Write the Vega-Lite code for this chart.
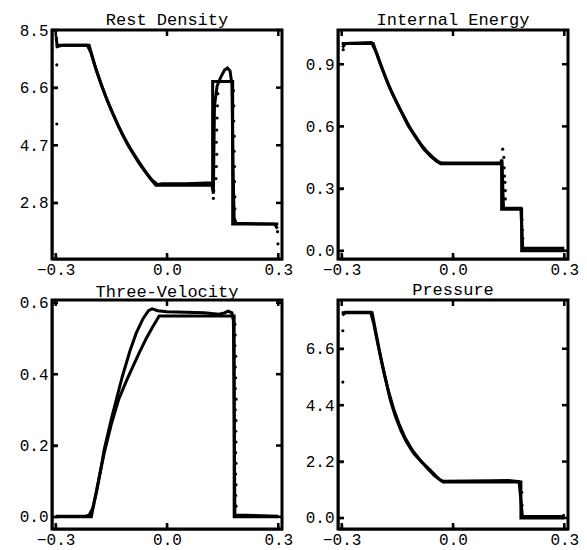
{
"$schema": "https://vega.github.io/schema/vega-lite/v6.json",
"background": "white",
"padding": {"left": 18, "top": 10, "right": 5, "bottom": 0},
"columns": 2,
"spacing": {"row": 41, "column": 56},
"bounds": "flush",
"config": {
  "view": {"stroke": "black", "strokeWidth": 2},
  "axis": {"grid": false, "title": null, "domain": true, "domainColor": "black", "domainWidth": 2, "ticks": true, "tickColor": "black", "tickWidth": 1.5, "tickSize": -5, "labelPadding": 9, "minExtent": 0, "labelFont": "Liberation Mono", "labelFontSize": 16, "labelColor": "black", "format": ".1f"},
  "axisX": {"labelPadding": 7},
  "title": {"font": "Liberation Mono", "fontSize": 17, "fontWeight": "normal", "color": "black", "offset": -7},
  "line": {"color": "black", "strokeWidth": 3},
  "point": {"color": "black", "filled": true, "size": 10, "opacity": 1},
  "tick": {"color": "black", "fill": "black", "opacity": 1, "thickness": 2.5}
},
"datasets": {
  "xt": [{"t": -0.3}, {"t": 0.0}, {"t": 0.3}],
  "rhoYT": [{"t": 2.8}, {"t": 4.7}, {"t": 6.6}, {"t": 8.5}],
  "epsYT": [{"t": 0.0}, {"t": 0.3}, {"t": 0.6}, {"t": 0.9}],
  "vYT": [{"t": 0.0}, {"t": 0.2}, {"t": 0.4}, {"t": 0.6}],
  "pYT": [{"t": 0.0}, {"t": 2.2}, {"t": 4.4}, {"t": 6.6}],
  "rhoF": [{"k":1,"x":-0.31,"y":0.95},{"k":2,"x":0.31,"y":0.95},{"k":3,"x":0.31,"y":8.5},{"k":4,"x":-0.31,"y":8.5},{"k":5,"x":-0.31,"y":0.95}],
  "epsF": [{"k":1,"x":-0.31,"y":-0.04},{"k":2,"x":0.31,"y":-0.04},{"k":3,"x":0.31,"y":1.065},{"k":4,"x":-0.31,"y":1.065},{"k":5,"x":-0.31,"y":-0.04}],
  "vF": [{"k":1,"x":-0.31,"y":-0.034},{"k":2,"x":0.31,"y":-0.034},{"k":3,"x":0.31,"y":0.608},{"k":4,"x":-0.31,"y":0.608},{"k":5,"x":-0.31,"y":-0.034}],
  "pF": [{"k":1,"x":-0.31,"y":-0.43},{"k":2,"x":0.31,"y":-0.43},{"k":3,"x":0.31,"y":8.5},{"k":4,"x":-0.31,"y":8.5},{"k":5,"x":-0.31,"y":-0.43}],
  "rhoL": [
    {"s":"a","x":-0.3,"y":8.0},{"s":"a","x":-0.21,"y":8.0},{"s":"a","x":-0.195,"y":7.35},{"s":"a","x":-0.18,"y":6.8},{"s":"a","x":-0.165,"y":6.3},{"s":"a","x":-0.15,"y":5.85},{"s":"a","x":-0.135,"y":5.45},{"s":"a","x":-0.12,"y":5.05},{"s":"a","x":-0.105,"y":4.7},{"s":"a","x":-0.09,"y":4.4},{"s":"a","x":-0.075,"y":4.1},{"s":"a","x":-0.06,"y":3.85},{"s":"a","x":-0.045,"y":3.6},{"s":"a","x":-0.03,"y":3.38},{"s":"a","x":0.123,"y":3.38},{"s":"a","x":0.1231,"y":6.8},{"s":"a","x":0.177,"y":6.8},{"s":"a","x":0.1771,"y":2.1},{"s":"a","x":0.3,"y":2.1},
    {"s":"b","x":-0.299,"y":8.3},{"s":"b","x":-0.296,"y":7.95},{"s":"b","x":-0.28,"y":8.0},{"s":"b","x":-0.215,"y":8.0},{"s":"b","x":-0.205,"y":7.75},{"s":"b","x":-0.19,"y":7.15},{"s":"b","x":-0.175,"y":6.62},{"s":"b","x":-0.16,"y":6.15},{"s":"b","x":-0.145,"y":5.72},{"s":"b","x":-0.13,"y":5.3},{"s":"b","x":-0.115,"y":4.95},{"s":"b","x":-0.1,"y":4.62},{"s":"b","x":-0.085,"y":4.33},{"s":"b","x":-0.07,"y":4.05},{"s":"b","x":-0.055,"y":3.78},{"s":"b","x":-0.04,"y":3.55},{"s":"b","x":-0.025,"y":3.4},{"s":"b","x":-0.015,"y":3.43},{"s":"b","x":0.05,"y":3.43},{"s":"b","x":0.12,"y":3.46},{"s":"b","x":0.125,"y":3.1},{"s":"b","x":0.128,"y":6.0},{"s":"b","x":0.135,"y":6.65},{"s":"b","x":0.145,"y":6.95},{"s":"b","x":0.155,"y":7.18},{"s":"b","x":0.163,"y":7.25},{"s":"b","x":0.17,"y":7.15},{"s":"b","x":0.175,"y":6.7},{"s":"b","x":0.178,"y":4.0},{"s":"b","x":0.181,"y":2.3},{"s":"b","x":0.186,"y":2.13},{"s":"b","x":0.29,"y":2.1},{"s":"b","x":0.298,"y":1.95}
  ],
  "rhoP": [
    {"x":-0.297,"y":7.35},{"x":-0.297,"y":5.4},{"x":-0.298,"y":8.2},
    {"x":0.125,"y":2.95},{"x":0.126,"y":3.2},{"x":0.132,"y":3.6},{"x":0.133,"y":4.0},{"x":0.134,"y":4.4},{"x":0.133,"y":4.8},{"x":0.134,"y":5.2},{"x":0.135,"y":5.6},{"x":0.136,"y":6.0},{"x":0.137,"y":6.4},
    {"x":0.179,"y":6.5},{"x":0.18,"y":6.0},{"x":0.18,"y":5.5},{"x":0.181,"y":5.0},{"x":0.181,"y":4.5},{"x":0.182,"y":4.0},{"x":0.182,"y":3.5},{"x":0.183,"y":3.0},{"x":0.183,"y":2.6},
    {"x":0.298,"y":1.85},{"x":0.299,"y":1.45}
  ],
  "epsL": [
    {"s":"a","x":-0.3,"y":1.0},{"s":"a","x":-0.215,"y":1.0},{"s":"a","x":-0.2,"y":0.92},{"s":"a","x":-0.185,"y":0.85},{"s":"a","x":-0.169,"y":0.78},{"s":"a","x":-0.15,"y":0.71},{"s":"a","x":-0.135,"y":0.655},{"s":"a","x":-0.123,"y":0.61},{"s":"a","x":-0.1,"y":0.545},{"s":"a","x":-0.079,"y":0.49},{"s":"a","x":-0.06,"y":0.455},{"s":"a","x":-0.045,"y":0.433},{"s":"a","x":-0.033,"y":0.42},{"s":"a","x":0.131,"y":0.42},{"s":"a","x":0.1311,"y":0.2},{"s":"a","x":0.185,"y":0.2},{"s":"a","x":0.1851,"y":0.0},{"s":"a","x":0.3,"y":0.0},
    {"s":"b","x":-0.298,"y":0.98},{"s":"b","x":-0.29,"y":1.0},{"s":"b","x":-0.22,"y":1.005},{"s":"b","x":-0.205,"y":0.95},{"s":"b","x":-0.19,"y":0.875},{"s":"b","x":-0.175,"y":0.805},{"s":"b","x":-0.16,"y":0.745},{"s":"b","x":-0.145,"y":0.69},{"s":"b","x":-0.13,"y":0.64},{"s":"b","x":-0.115,"y":0.59},{"s":"b","x":-0.1,"y":0.55},{"s":"b","x":-0.085,"y":0.51},{"s":"b","x":-0.07,"y":0.478},{"s":"b","x":-0.055,"y":0.452},{"s":"b","x":-0.04,"y":0.43},{"s":"b","x":-0.03,"y":0.423},{"s":"b","x":0.128,"y":0.425},{"s":"b","x":0.132,"y":0.44},{"s":"b","x":0.136,"y":0.21},{"s":"b","x":0.14,"y":0.205},{"s":"b","x":0.183,"y":0.205},{"s":"b","x":0.188,"y":0.012},{"s":"b","x":0.3,"y":0.012}
  ],
  "epsP": [
    {"x":-0.296,"y":0.97},{"x":-0.294,"y":0.995},{"x":0.134,"y":0.49},{"x":0.137,"y":0.45},{"x":0.138,"y":0.4},{"x":0.139,"y":0.36},{"x":0.14,"y":0.33},{"x":0.141,"y":0.29},{"x":0.141,"y":0.25},{"x":0.186,"y":0.15},{"x":0.187,"y":0.1},{"x":0.188,"y":0.06}
  ],
  "vL": [
    {"s":"a","x":-0.3,"y":0.0},{"s":"a","x":-0.204,"y":0.0},{"s":"a","x":-0.185,"y":0.1},{"s":"a","x":-0.169,"y":0.18},{"s":"a","x":-0.15,"y":0.26},{"s":"a","x":-0.13,"y":0.33},{"s":"a","x":-0.11,"y":0.38},{"s":"a","x":-0.097,"y":0.41},{"s":"a","x":-0.075,"y":0.46},{"s":"a","x":-0.056,"y":0.5},{"s":"a","x":-0.04,"y":0.53},{"s":"a","x":-0.021,"y":0.563},{"s":"a","x":0.181,"y":0.563},{"s":"a","x":0.1811,"y":0.0},{"s":"a","x":0.3,"y":0.0},
    {"s":"b","x":-0.3,"y":0.002},{"s":"b","x":-0.22,"y":0.002},{"s":"b","x":-0.21,"y":0.005},{"s":"b","x":-0.2,"y":0.025},{"s":"b","x":-0.19,"y":0.07},{"s":"b","x":-0.18,"y":0.125},{"s":"b","x":-0.169,"y":0.19},{"s":"b","x":-0.15,"y":0.275},{"s":"b","x":-0.135,"y":0.335},{"s":"b","x":-0.12,"y":0.395},{"s":"b","x":-0.1,"y":0.465},{"s":"b","x":-0.083,"y":0.515},{"s":"b","x":-0.065,"y":0.555},{"s":"b","x":-0.05,"y":0.578},{"s":"b","x":-0.04,"y":0.583},{"s":"b","x":-0.025,"y":0.578},{"s":"b","x":0.0,"y":0.575},{"s":"b","x":0.05,"y":0.574},{"s":"b","x":0.1,"y":0.572},{"s":"b","x":0.14,"y":0.568},{"s":"b","x":0.155,"y":0.572},{"s":"b","x":0.165,"y":0.577},{"s":"b","x":0.175,"y":0.572},{"s":"b","x":0.179,"y":0.55},{"s":"b","x":0.181,"y":0.3},{"s":"b","x":0.183,"y":0.005},{"s":"b","x":0.3,"y":0.002}
  ],
  "vP": [
    {"x":0.183,"y":0.54},{"x":0.184,"y":0.51},{"x":0.183,"y":0.48},{"x":0.185,"y":0.45},{"x":0.184,"y":0.42},{"x":0.185,"y":0.39},{"x":0.184,"y":0.36},{"x":0.186,"y":0.33},{"x":0.184,"y":0.3},{"x":0.186,"y":0.27},{"x":0.185,"y":0.24},{"x":0.186,"y":0.21},{"x":0.185,"y":0.18},{"x":0.186,"y":0.15},{"x":0.185,"y":0.12},{"x":0.186,"y":0.09},{"x":0.185,"y":0.06},{"x":0.186,"y":0.03}
  ],
  "pL": [
    {"s":"a","x":-0.3,"y":8.0},{"s":"a","x":-0.218,"y":8.0},{"s":"a","x":-0.21,"y":7.4},{"s":"a","x":-0.2,"y":6.65},{"s":"a","x":-0.19,"y":5.95},{"s":"a","x":-0.18,"y":5.3},{"s":"a","x":-0.169,"y":4.6},{"s":"a","x":-0.155,"y":3.95},{"s":"a","x":-0.14,"y":3.4},{"s":"a","x":-0.125,"y":2.95},{"s":"a","x":-0.105,"y":2.5},{"s":"a","x":-0.082,"y":2.15},{"s":"a","x":-0.06,"y":1.85},{"s":"a","x":-0.04,"y":1.55},{"s":"a","x":-0.027,"y":1.4},{"s":"a","x":0.183,"y":1.4},{"s":"a","x":0.1831,"y":0.0},{"s":"a","x":0.3,"y":0.0},
    {"s":"b","x":-0.298,"y":7.9},{"s":"b","x":-0.29,"y":8.02},{"s":"b","x":-0.222,"y":8.02},{"s":"b","x":-0.214,"y":7.6},{"s":"b","x":-0.205,"y":6.95},{"s":"b","x":-0.195,"y":6.25},{"s":"b","x":-0.185,"y":5.6},{"s":"b","x":-0.174,"y":4.95},{"s":"b","x":-0.16,"y":4.25},{"s":"b","x":-0.145,"y":3.65},{"s":"b","x":-0.13,"y":3.15},{"s":"b","x":-0.11,"y":2.65},{"s":"b","x":-0.09,"y":2.28},{"s":"b","x":-0.07,"y":1.95},{"s":"b","x":-0.05,"y":1.65},{"s":"b","x":-0.035,"y":1.48},{"s":"b","x":-0.025,"y":1.43},{"s":"b","x":0.1,"y":1.45},{"s":"b","x":0.15,"y":1.46},{"s":"b","x":0.178,"y":1.42},{"s":"b","x":0.183,"y":0.7},{"s":"b","x":0.187,"y":0.06},{"s":"b","x":0.3,"y":0.06}
  ],
  "pP": [
    {"x":-0.297,"y":7.3},{"x":-0.297,"y":5.3},{"x":0.185,"y":1.0},{"x":0.186,"y":0.5},{"x":0.298,"y":0.1}
  ]
},
"concat": [
  {
    "width": 230, "height": 229, "title": "Rest Density",
    "layer": [
      {"data": {"name": "rhoL"}, "mark": "line",
       "encoding": {
         "x": {"field": "x", "type": "quantitative", "scale": {"domain": [-0.31, 0.31], "nice": false, "zero": false}, "axis": {"values": [-0.3, 0, 0.3]}},
         "y": {"field": "y", "type": "quantitative", "scale": {"domain": [0.95, 8.5], "nice": false, "zero": false}, "axis": {"values": [2.8, 4.7, 6.6, 8.5]}},
         "detail": {"field": "s"}}},
      {"data": {"name": "rhoP"}, "mark": "point",
       "encoding": {"x": {"field": "x", "type": "quantitative"}, "y": {"field": "y", "type": "quantitative"}}},
      {"data": {"name": "xt"}, "mark": {"type": "tick", "orient": "vertical", "size": 6, "yOffset": -3},
       "encoding": {"x": {"field": "t", "type": "quantitative"}, "y": {"datum": 0.95, "type": "quantitative"}}},
      {"data": {"name": "xt"}, "mark": {"type": "tick", "orient": "vertical", "size": 6, "yOffset": 3},
       "encoding": {"x": {"field": "t", "type": "quantitative"}, "y": {"datum": 8.5, "type": "quantitative"}}},
      {"data": {"name": "rhoYT"}, "mark": {"type": "tick", "orient": "horizontal", "size": 6, "xOffset": 3},
       "encoding": {"y": {"field": "t", "type": "quantitative"}, "x": {"datum": -0.31, "type": "quantitative"}}},
      {"data": {"name": "rhoYT"}, "mark": {"type": "tick", "orient": "horizontal", "size": 6, "xOffset": -3},
       "encoding": {"y": {"field": "t", "type": "quantitative"}, "x": {"datum": 0.31, "type": "quantitative"}}},
      {"data": {"name": "rhoF"}, "mark": {"type": "line", "strokeWidth": 3, "strokeCap": "square"},
       "encoding": {"x": {"field": "x", "type": "quantitative"}, "y": {"field": "y", "type": "quantitative"}, "order": {"field": "k"}}}
    ]
  },
  {
    "width": 230, "height": 229, "title": {"text": "Internal Energy", "offset": -5},
    "layer": [
      {"data": {"name": "epsL"}, "mark": "line",
       "encoding": {
         "x": {"field": "x", "type": "quantitative", "scale": {"domain": [-0.31, 0.31], "nice": false, "zero": false}, "axis": {"values": [-0.3, 0, 0.3]}},
         "y": {"field": "y", "type": "quantitative", "scale": {"domain": [-0.04, 1.065], "nice": false, "zero": false}, "axis": {"values": [0, 0.3, 0.6, 0.9]}},
         "detail": {"field": "s"}}},
      {"data": {"name": "epsP"}, "mark": "point",
       "encoding": {"x": {"field": "x", "type": "quantitative"}, "y": {"field": "y", "type": "quantitative"}}},
      {"data": {"name": "xt"}, "mark": {"type": "tick", "orient": "vertical", "size": 6, "yOffset": -3},
       "encoding": {"x": {"field": "t", "type": "quantitative"}, "y": {"datum": -0.04, "type": "quantitative"}}},
      {"data": {"name": "xt"}, "mark": {"type": "tick", "orient": "vertical", "size": 6, "yOffset": 3},
       "encoding": {"x": {"field": "t", "type": "quantitative"}, "y": {"datum": 1.065, "type": "quantitative"}}},
      {"data": {"name": "epsYT"}, "mark": {"type": "tick", "orient": "horizontal", "size": 6, "xOffset": 3},
       "encoding": {"y": {"field": "t", "type": "quantitative"}, "x": {"datum": -0.31, "type": "quantitative"}}},
      {"data": {"name": "epsYT"}, "mark": {"type": "tick", "orient": "horizontal", "size": 6, "xOffset": -3},
       "encoding": {"y": {"field": "t", "type": "quantitative"}, "x": {"datum": 0.31, "type": "quantitative"}}},
      {"data": {"name": "epsF"}, "mark": {"type": "line", "strokeWidth": 3, "strokeCap": "square"},
       "encoding": {"x": {"field": "x", "type": "quantitative"}, "y": {"field": "y", "type": "quantitative"}, "order": {"field": "k"}}}
    ]
  },
  {
    "width": 230, "height": 229, "title": "Three-Velocity",
    "layer": [
      {"data": {"name": "vL"}, "mark": "line",
       "encoding": {
         "x": {"field": "x", "type": "quantitative", "scale": {"domain": [-0.31, 0.31], "nice": false, "zero": false}, "axis": {"values": [-0.3, 0, 0.3]}},
         "y": {"field": "y", "type": "quantitative", "scale": {"domain": [-0.034, 0.608], "nice": false, "zero": false}, "axis": {"values": [0, 0.2, 0.4, 0.6]}},
         "detail": {"field": "s"}}},
      {"data": {"name": "vP"}, "mark": "point",
       "encoding": {"x": {"field": "x", "type": "quantitative"}, "y": {"field": "y", "type": "quantitative"}}},
      {"data": {"name": "xt"}, "mark": {"type": "tick", "orient": "vertical", "size": 6, "yOffset": -3},
       "encoding": {"x": {"field": "t", "type": "quantitative"}, "y": {"datum": -0.034, "type": "quantitative"}}},
      {"data": {"name": "xt"}, "mark": {"type": "tick", "orient": "vertical", "size": 6, "yOffset": 3},
       "encoding": {"x": {"field": "t", "type": "quantitative"}, "y": {"datum": 0.608, "type": "quantitative"}}},
      {"data": {"name": "vYT"}, "mark": {"type": "tick", "orient": "horizontal", "size": 6, "xOffset": 3},
       "encoding": {"y": {"field": "t", "type": "quantitative"}, "x": {"datum": -0.31, "type": "quantitative"}}},
      {"data": {"name": "vYT"}, "mark": {"type": "tick", "orient": "horizontal", "size": 6, "xOffset": -3},
       "encoding": {"y": {"field": "t", "type": "quantitative"}, "x": {"datum": 0.31, "type": "quantitative"}}},
      {"data": {"name": "vF"}, "mark": {"type": "line", "strokeWidth": 3, "strokeCap": "square"},
       "encoding": {"x": {"field": "x", "type": "quantitative"}, "y": {"field": "y", "type": "quantitative"}, "order": {"field": "k"}}}
    ]
  },
  {
    "width": 230, "height": 229, "title": {"text": "Pressure", "offset": -5},
    "layer": [
      {"data": {"name": "pL"}, "mark": "line",
       "encoding": {
         "x": {"field": "x", "type": "quantitative", "scale": {"domain": [-0.31, 0.31], "nice": false, "zero": false}, "axis": {"values": [-0.3, 0, 0.3]}},
         "y": {"field": "y", "type": "quantitative", "scale": {"domain": [-0.43, 8.5], "nice": false, "zero": false}, "axis": {"values": [0, 2.2, 4.4, 6.6]}},
         "detail": {"field": "s"}}},
      {"data": {"name": "pP"}, "mark": "point",
       "encoding": {"x": {"field": "x", "type": "quantitative"}, "y": {"field": "y", "type": "quantitative"}}},
      {"data": {"name": "xt"}, "mark": {"type": "tick", "orient": "vertical", "size": 6, "yOffset": -3},
       "encoding": {"x": {"field": "t", "type": "quantitative"}, "y": {"datum": -0.43, "type": "quantitative"}}},
      {"data": {"name": "xt"}, "mark": {"type": "tick", "orient": "vertical", "size": 6, "yOffset": 3},
       "encoding": {"x": {"field": "t", "type": "quantitative"}, "y": {"datum": 8.5, "type": "quantitative"}}},
      {"data": {"name": "pYT"}, "mark": {"type": "tick", "orient": "horizontal", "size": 6, "xOffset": 3},
       "encoding": {"y": {"field": "t", "type": "quantitative"}, "x": {"datum": -0.31, "type": "quantitative"}}},
      {"data": {"name": "pYT"}, "mark": {"type": "tick", "orient": "horizontal", "size": 6, "xOffset": -3},
       "encoding": {"y": {"field": "t", "type": "quantitative"}, "x": {"datum": 0.31, "type": "quantitative"}}},
      {"data": {"name": "pF"}, "mark": {"type": "line", "strokeWidth": 3, "strokeCap": "square"},
       "encoding": {"x": {"field": "x", "type": "quantitative"}, "y": {"field": "y", "type": "quantitative"}, "order": {"field": "k"}}}
    ]
  }
]
}
